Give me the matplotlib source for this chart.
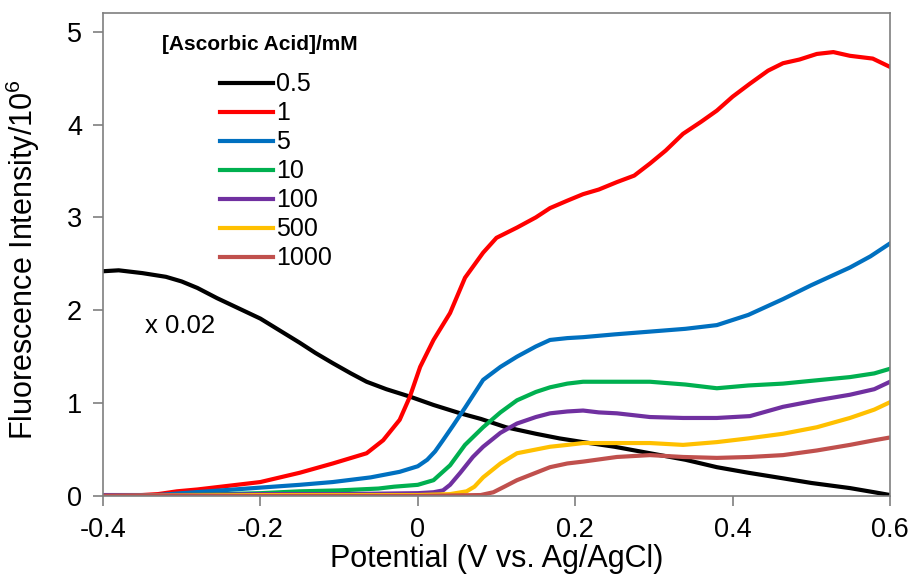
import matplotlib

matplotlib.use("Agg")

import matplotlib.pyplot as plt  # noqa: E402

plt.rcParams["font.family"] = ["Liberation Sans", "DejaVu Sans"]
plt.rcParams["mathtext.default"] = "regular"

# potential (V) and intensity (/10^6)
x_05 = [-0.4, -0.38, -0.35, -0.32, -0.3, -0.28, -0.255, -0.23, -0.2, -0.175,
        -0.15, -0.13, -0.108, -0.085, -0.065, -0.04, -0.01, 0.02, 0.054, 0.08,
        0.112, 0.15, 0.18, 0.21, 0.25, 0.295, 0.34, 0.38, 0.42, 0.464, 0.5,
        0.549, 0.58, 0.6]
y_05 = [2.42, 2.43, 2.40, 2.36, 2.31, 2.24, 2.13, 2.03, 1.91, 1.78, 1.65,
        1.54, 1.43, 1.32, 1.23, 1.15, 1.07, 0.98, 0.89, 0.83, 0.74, 0.67, 0.62,
        0.58, 0.53, 0.46, 0.39, 0.31, 0.25, 0.19, 0.14, 0.085, 0.04, 0.01]

x_1 = [-0.4, -0.35, -0.33, -0.306, -0.28, -0.25, -0.2, -0.15, -0.108, -0.065,
       -0.044, -0.023, -0.01, 0.003, 0.02, 0.041, 0.06, 0.083, 0.1, 0.126,
       0.15, 0.168, 0.19, 0.21, 0.23, 0.253, 0.275, 0.295, 0.315, 0.337, 0.36,
       0.38, 0.4, 0.422, 0.445, 0.464, 0.485, 0.507, 0.528, 0.549, 0.578, 0.6]
y_1 = [0.0, 0.01, 0.02, 0.05, 0.07, 0.1, 0.15, 0.25, 0.35, 0.46, 0.6, 0.82,
       1.07, 1.39, 1.68, 1.97, 2.35, 2.62, 2.78, 2.89, 3.0, 3.1, 3.18, 3.25,
       3.3, 3.38, 3.45, 3.58, 3.72, 3.9, 4.03, 4.15, 4.3, 4.44, 4.58, 4.66,
       4.7, 4.76, 4.78, 4.74, 4.71, 4.62]

x_5 = [-0.4, -0.33, -0.3, -0.25, -0.2, -0.15, -0.108, -0.06, -0.023, 0.0,
       0.012, 0.022, 0.032, 0.045, 0.06, 0.083, 0.105, 0.126, 0.15, 0.168,
       0.19, 0.21, 0.25, 0.295, 0.34, 0.38, 0.42, 0.464, 0.5, 0.549, 0.575, 0.6]
y_5 = [0.0, 0.01, 0.03, 0.06, 0.09, 0.12, 0.15, 0.2, 0.26, 0.32, 0.39, 0.48,
       0.6, 0.76, 0.95, 1.25, 1.39, 1.5, 1.61, 1.68, 1.7, 1.71, 1.74, 1.77,
       1.8, 1.84, 1.95, 2.12, 2.27, 2.46, 2.58, 2.72]

x_10 = [-0.4, -0.3, -0.25, -0.2, -0.15, -0.1, -0.05, -0.03, 0.0, 0.02, 0.041,
        0.06, 0.083, 0.105, 0.126, 0.15, 0.168, 0.19, 0.21, 0.25, 0.295, 0.34,
        0.38, 0.42, 0.464, 0.5, 0.549, 0.58, 0.6]
y_10 = [0.0, 0.01, 0.02, 0.03, 0.05, 0.06, 0.08, 0.1, 0.12, 0.17, 0.33, 0.55,
        0.74, 0.9, 1.03, 1.12, 1.17, 1.21, 1.23, 1.23, 1.23, 1.2, 1.16, 1.19,
        1.21, 1.24, 1.28, 1.32, 1.37]

x_100 = [-0.4, -0.3, -0.2, -0.1, 0.0, 0.02, 0.032, 0.041, 0.054, 0.07, 0.083,
         0.105, 0.126, 0.15, 0.168, 0.19, 0.21, 0.23, 0.253, 0.295, 0.337,
         0.38, 0.422, 0.464, 0.507, 0.549, 0.58, 0.6]
y_100 = [0.01, 0.01, 0.02, 0.02, 0.03, 0.04, 0.06, 0.12, 0.25, 0.42, 0.53,
         0.68, 0.78, 0.85, 0.89, 0.91, 0.92, 0.9, 0.89, 0.85, 0.84, 0.84, 0.86,
         0.96, 1.03, 1.09, 1.15, 1.23]

x_500 = [-0.4, -0.2, 0.0, 0.041, 0.062, 0.072, 0.083, 0.105, 0.126, 0.15,
         0.168, 0.19, 0.21, 0.25, 0.295, 0.337, 0.38, 0.42, 0.464, 0.507,
         0.549, 0.58, 0.6]
y_500 = [0.0, 0.01, 0.01, 0.02, 0.05, 0.1, 0.2, 0.35, 0.46, 0.5, 0.53, 0.55,
         0.57, 0.57, 0.57, 0.55, 0.58, 0.62, 0.67, 0.74, 0.84, 0.93, 1.01]

x_1000 = [-0.4, -0.2, 0.0, 0.08, 0.096, 0.11, 0.126, 0.15, 0.168, 0.19, 0.21,
          0.253, 0.295, 0.337, 0.38, 0.422, 0.464, 0.507, 0.549, 0.58, 0.6]
y_1000 = [0.0, 0.0, 0.0, 0.01, 0.04, 0.1, 0.17, 0.25, 0.31, 0.35, 0.37, 0.42,
          0.44, 0.42, 0.41, 0.42, 0.44, 0.49, 0.55, 0.6, 0.63]

labels = ["0.5", "1", "5", "10", "100", "500", "1000"]
colors = ["black", "#FF0000", "#0070C0", "#00B050", "#7030A0", "#FFC000",
          "#C0504D"]
series = [(x_05, y_05), (x_1, y_1), (x_5, y_5), (x_10, y_10),
          (x_100, y_100), (x_500, y_500), (x_1000, y_1000)]

fig = plt.figure(figsize=(9.11, 5.79), dpi=100)
ax = fig.add_axes([0.113, 0.1434, 0.864, 0.834])

for (xs, ys), lab, col in zip(series, labels, colors):
    ax.plot(xs, ys, color=col, lw=3, label=lab)

ax.set_xlim(-0.4, 0.6)
ax.set_ylim(0, 5.2)
ax.set_xticks([-0.4, -0.2, 0, 0.2, 0.4, 0.6])
ax.set_xticklabels(["-0.4", "-0.2", "0", "0.2", "0.4", "0.6"])
ax.set_yticks([0, 1, 2, 3, 4, 5])

for side in ["top", "right", "left", "bottom"]:
    ax.spines[side].set_color("#7f7f7f")
    ax.spines[side].set_linewidth(1.2)
ax.tick_params(direction="out", length=7, width=1.2, color="#7f7f7f",
               labelsize=19.5, pad=8)

ax.set_xlabel("Potential (V vs. Ag/AgCl)", fontsize=22)
ax.set_ylabel("Fluorescence Intensity/10$^{6}$", fontsize=22)
ax.xaxis.set_label_coords(0.5, -0.1)
ax.yaxis.set_label_coords(-0.077, 0.49)

ax.text(-0.3466, 1.76, "x 0.02", fontsize=18.5, va="baseline")

ax.text(0.1995, 0.934, "[Ascorbic Acid]/mM", transform=ax.transAxes,
        fontsize=15, fontweight="bold", ha="center", va="center")
ax.legend(
    loc="upper left",
    bbox_to_anchor=(0.1487, 0.877),
    frameon=False,
    fontsize=18,
    handlelength=2.12,
    handletextpad=0.12,
    labelspacing=0.2,
    borderpad=0,
    borderaxespad=0,
)

plt.savefig("out.png", dpi=100)
